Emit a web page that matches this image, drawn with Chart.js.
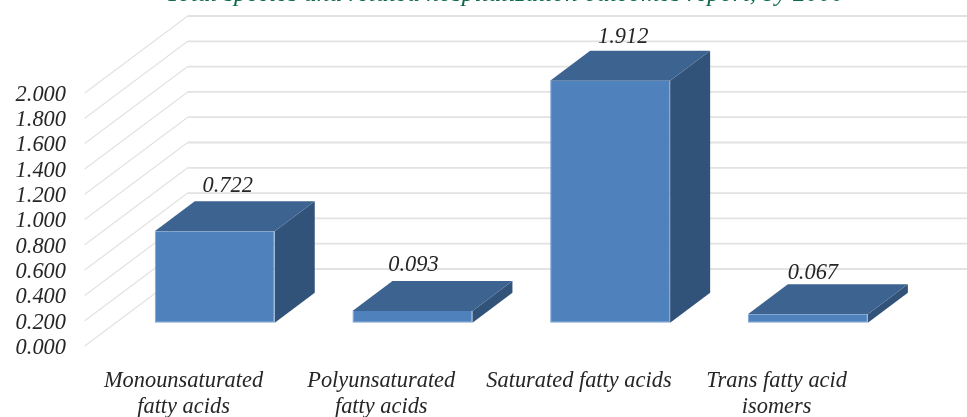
<!DOCTYPE html>
<html>
<head>
<meta charset="utf-8">
<title>Fatty acids</title>
<script src="https://cdn.jsdelivr.net/npm/chart.js@4/dist/chart.umd.min.js"></script>
<style>
  html, body { margin: 0; padding: 0; background: #fff; overflow: hidden; }
  canvas { display: block; }
</style>
</head>
<body>
<canvas id="fattyChart" width="967" height="417"></canvas>
<script>
const titleText = 'Total species and related hospitalization outcomes report, by 2000';
const categories = [
  ['Monounsaturated', 'fatty acids'],
  ['Polyunsaturated', 'fatty acids'],
  'Saturated fatty acids',
  ['Trans fatty acid', 'isomers']
];
const values = [0.722, 0.093, 1.912, 0.067];
const valueLabels = ['0.722', '0.093', '1.912', '0.067'];

// hand placed offsets for the value labels, x then y
const labelNudge = [[13, -45.5], [1, -45.5], [13, -44], [5, -41]];

const fontFamily = '"Liberation Serif", serif';
const labelFont = { family: fontFamily, size: 22.4, style: 'italic' };
const textColor = '#262626';

// fake 3D: back wall offset, where the bars sit in the floor, how deep they are
const wall = { x: 103, y: -77 };
const barShift = { x: 31.2, y: -23.3 };
const barDepth = { x: 40, y: -30 };

function poly(ctx, pts, color) {
  ctx.beginPath();
  ctx.moveTo(pts[0][0], pts[0][1]);
  pts.slice(1).forEach(p => ctx.lineTo(p[0], p[1]));
  ctx.closePath();
  ctx.fillStyle = color;
  ctx.fill();
}

const box3d = {
  id: 'box3d',
  beforeDatasetsDraw(chart) {
    const { ctx, chartArea, scales: { y } } = chart;

    // walls
    ctx.save();
    y.ticks.forEach(t => {
      const py = y.getPixelForValue(t.value);
      const bx = chartArea.left + wall.x;
      const by = py + wall.y;
      ctx.strokeStyle = '#e2e2e2';
      ctx.lineWidth = 1.2;
      ctx.beginPath();
      ctx.moveTo(chartArea.left, py);
      ctx.lineTo(bx, by);
      ctx.stroke();
      ctx.lineWidth = 1.8;
      ctx.beginPath();
      ctx.moveTo(bx, by);
      ctx.lineTo(chart.width, by);
      ctx.stroke();
    });
    ctx.restore();

    // side and top faces of every bar
    ctx.save();
    ctx.translate(barShift.x, barShift.y);
    chart.getDatasetMeta(0).data.forEach(bar => {
      const l = bar.x - bar.width / 2;
      const r = bar.x + bar.width / 2;
      poly(ctx, [[r, bar.y], [r + barDepth.x, bar.y + barDepth.y],
        [r + barDepth.x, bar.base + barDepth.y], [r, bar.base]], '#325379');
      poly(ctx, [[l, bar.y], [l + barDepth.x, bar.y + barDepth.y],
        [r + barDepth.x, bar.y + barDepth.y], [r, bar.y]], '#3d6391');
    });
    ctx.restore();

    // front faces come from the bar elements, moved into the floor
    ctx.save();
    ctx.translate(barShift.x, barShift.y);
  },
  afterDatasetsDraw(chart) {
    const { ctx } = chart;
    ctx.restore();

    ctx.save();
    ctx.fillStyle = textColor;
    ctx.font = 'italic 22.4px ' + fontFamily;
    ctx.textAlign = 'center';
    ctx.textBaseline = 'middle';
    chart.getDatasetMeta(0).data.forEach((bar, i) => {
      ctx.fillText(valueLabels[i], bar.x + barShift.x + labelNudge[i][0], bar.y + barShift.y + labelNudge[i][1]);
    });

    // heading runs off the top edge of the canvas
    ctx.fillStyle = '#0f6b4b';
    ctx.font = 'italic 25.5px ' + fontFamily;
    ctx.textBaseline = 'alphabetic';
    ctx.fillText(titleText, 505, 0.6);
    ctx.restore();
  }
};

new Chart(document.getElementById('fattyChart'), {
  type: 'bar',
  data: {
    labels: categories,
    datasets: [{
      data: values,
      backgroundColor: '#4f81bd',
      borderColor: '#7ea4d2',
      borderWidth: 1,
      borderSkipped: 'top',
      barPercentage: 0.607,
      categoryPercentage: 1,
      clip: false
    }]
  },
  options: {
    responsive: false,
    animation: false,
    layout: { padding: { top: 93, right: 91.5 } },
    plugins: { legend: { display: false }, title: { display: false }, tooltip: { enabled: false } },
    scales: {
      x: {
        grid: { display: false },
        border: { display: false },
        afterFit: scale => { scale.height = 71; },
        ticks: {
          color: textColor,
          font: { ...labelFont, lineHeight: 1.17 },
          padding: 14,
          maxRotation: 0,
          autoSkip: false
        }
      },
      y: {
        min: 0,
        max: 2,
        grid: { display: false },
        border: { display: false },
        afterFit: scale => { scale.width = 84.7; },
        ticks: {
          stepSize: 0.2,
          autoSkip: false,
          color: textColor,
          font: labelFont,
          padding: 10.7,
          labelOffset: 2,
          callback: value => value.toFixed(3)
        }
      }
    }
  },
  plugins: [box3d]
});
</script>
</body>
</html>
